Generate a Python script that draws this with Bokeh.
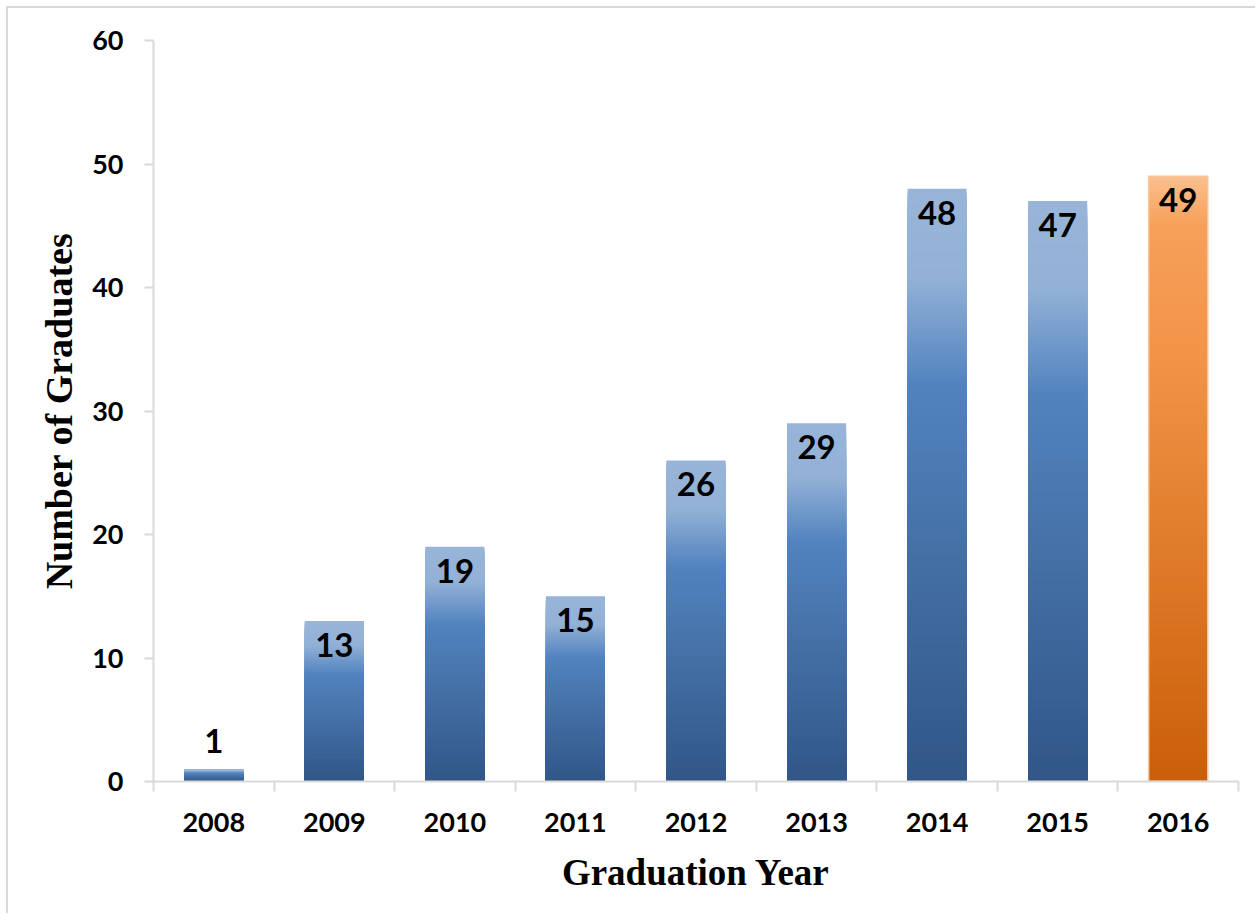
from bokeh.plotting import figure
from bokeh.models import FixedTicker, ColumnDataSource
from bokeh.core.properties import value
from bokeh.embed import file_html
from bokeh.resources import INLINE

# ---- data ----
years = ["2008", "2009", "2010", "2011", "2012", "2013", "2014", "2015", "2016"]
graduates = [1, 13, 19, 15, 26, 29, 48, 47, 49]
y_ticks = [0, 10, 20, 30, 40, 50, 60]
highlight_year = "2016"

# ---- styling ----
BLUE_STOPS = [(0.0, (0x98, 0xb5, 0xd9)), (0.15, (0x93, 0xb1, 0xd6)),
              (0.33, (0x52, 0x83, 0xbf)), (0.6, (0x45, 0x71, 0xa7)),
              (1.0, (0x31, 0x56, 0x88))]
ORANGE_STOPS = [(0.0, (0xfb, 0xc0, 0x8f)), (0.08, (0xf6, 0xa0, 0x5a)),
                (0.3, (0xf2, 0x93, 0x48)), (0.6, (0xe0, 0x7d, 0x2c)),
                (1.0, (0xcb, 0x5e, 0x09))]
N_SLICES = 150
AXIS_GRAY = "#d9d9d9"


def grad_color(stops, t):
    for (t0, c0), (t1, c1) in zip(stops[:-1], stops[1:]):
        if t <= t1:
            u = (t - t0) / (t1 - t0) if t1 > t0 else 0
            r, g, b = (int(round(a + (bb - a) * u)) for a, bb in zip(c0, c1))
            return "#%02x%02x%02x" % (r, g, b)
    r, g, b = stops[-1][1]
    return "#%02x%02x%02x" % (r, g, b)


xs, tops, cols = [], [], []
for i, (yr, v) in enumerate(zip(years, graduates)):
    stops = ORANGE_STOPS if yr == highlight_year else BLUE_STOPS
    for k in range(N_SLICES):
        f0 = k / N_SLICES
        xs.append(i + 0.5)
        tops.append(v * (1 - f0))
        cols.append(grad_color(stops, (k + 0.5) / N_SLICES))

p = figure(width=1249, height=907, x_range=(0, len(years)), y_range=(0, 60),
           output_backend="svg", toolbar_location=None,
           min_border_left=145, min_border_right=19, min_border_top=32,
           min_border_bottom=134)
p.styles = {"border-left": "2px solid #d9d9d9", "border-top": "2px solid #d9d9d9",
            "margin-left": "6px", "margin-top": "6px"}
p.outline_line_color = None
p.xgrid.visible = False
p.ygrid.visible = False
p.background_fill_color = "white"
p.border_fill_color = "white"

src = ColumnDataSource(dict(x=xs, top=tops, color=cols))
p.vbar(x="x", top="top", bottom=0, width=0.49, fill_color="color",
       line_color=None, source=src)

# light edge on highlighted bar
hi = years.index(highlight_year)
p.vbar(x=[hi + 0.5], top=[graduates[hi]], bottom=0, width=0.49,
       fill_color=None, line_color="#fbc594", line_width=1.5)

# data labels
inside = [v >= 5 for v in graduates]
p.text(x=[i + 0.5 for i in range(len(years))], y=graduates,
       text=[str(v) for v in graduates],
       y_offset=[24 if ins else -28 for ins in inside],
       text_align="center", text_baseline="middle",
       text_font=value("Lato"), text_font_style="bold",
       text_font_size="33px", text_color="black")

# x axis
xa = p.xaxis[0]
xa.ticker = FixedTicker(ticks=[i + 0.5 for i in range(len(years))],
                        minor_ticks=list(range(len(years) + 1)))
xa.major_label_overrides = {i + 0.5: y for i, y in enumerate(years)}
xa.major_tick_out = 0
xa.major_tick_in = 0
xa.minor_tick_out = 10
xa.minor_tick_in = 0
xa.minor_tick_line_color = AXIS_GRAY
xa.minor_tick_line_width = 2
xa.axis_line_color = AXIS_GRAY
xa.axis_line_width = 2
xa.major_label_text_font = "Lato"
xa.major_label_text_font_style = "bold"
xa.major_label_text_font_size = "27px"
xa.major_label_text_color = "black"
xa.major_label_standoff = 21
xa.axis_label = "Graduation Year"
xa.axis_label_text_font = "Liberation Serif"
xa.axis_label_text_font_style = "bold"
xa.axis_label_text_font_size = "37px"
xa.axis_label_text_color = "black"
xa.axis_label_standoff = 17

# y axis
ya = p.yaxis[0]
ya.ticker = FixedTicker(ticks=y_ticks, minor_ticks=[])
ya.major_tick_out = 9
ya.major_tick_in = 0
ya.major_tick_line_color = AXIS_GRAY
ya.major_tick_line_width = 2
ya.minor_tick_line_color = None
ya.axis_line_color = AXIS_GRAY
ya.axis_line_width = 2
ya.major_label_text_font = "Lato"
ya.major_label_text_font_style = "bold"
ya.major_label_text_font_size = "27px"
ya.major_label_text_color = "black"
ya.major_label_standoff = 21
ya.axis_label = "Number of Graduates"
ya.axis_label_text_font = "Liberation Serif"
ya.axis_label_text_font_style = "bold"
ya.axis_label_text_font_size = "38px"
ya.axis_label_text_color = "black"
ya.axis_label_standoff = 9

open("out.html", "w").write(file_html(p, INLINE))
